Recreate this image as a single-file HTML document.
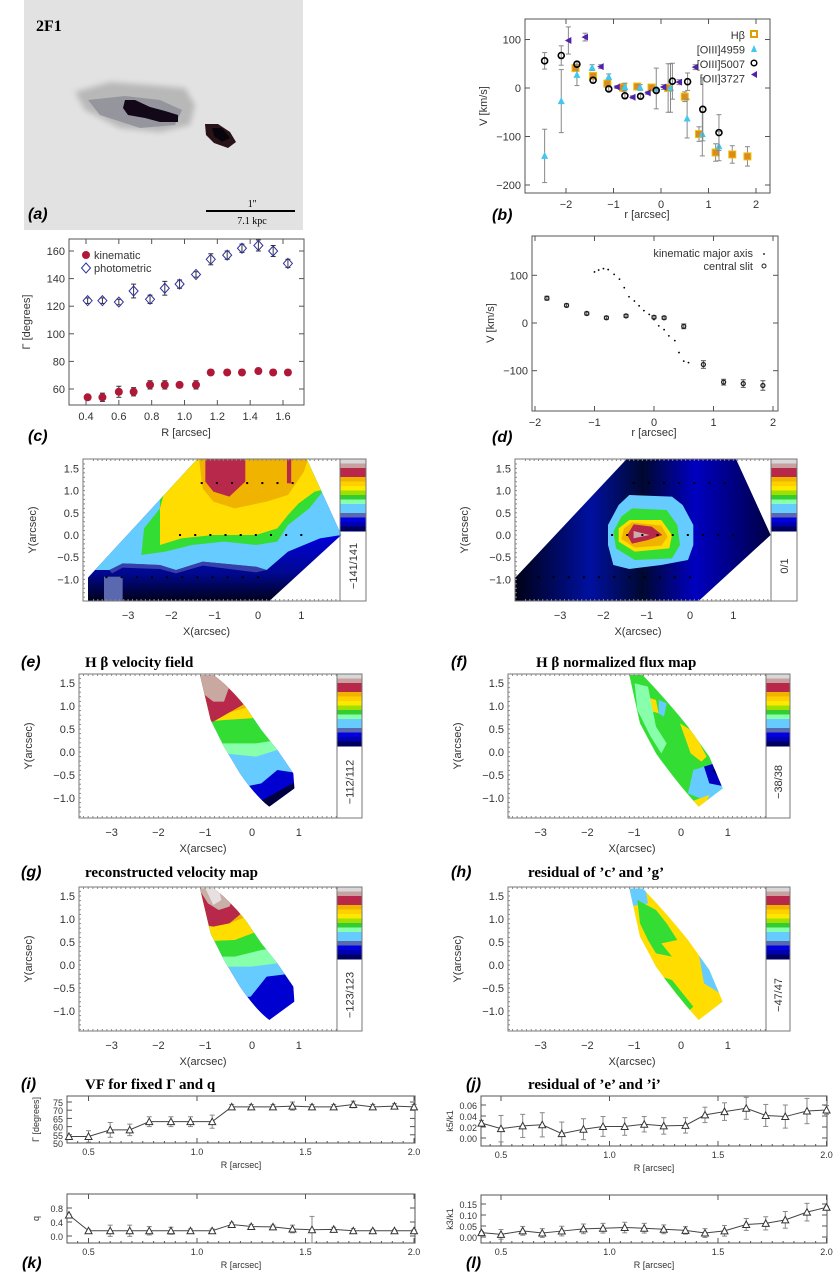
<!DOCTYPE html>
<html><head><meta charset="utf-8"><style>
body{margin:0;background:#fff}
svg{display:block}
text{font-family:"Liberation Sans",sans-serif;fill:#333}
.t{font-size:11px}
.s{font-size:9px}
.pl{font-size:16px;font-style:italic;font-weight:bold;fill:#000}
.ti{font-family:"Liberation Serif",serif;font-size:15px;font-weight:bold;fill:#000}
</style></head><body>
<svg id="fig" width="833" height="1275" viewBox="0 0 833 1275" xmlns="http://www.w3.org/2000/svg">
<defs>
<linearGradient id="navy" x1="0" y1="1" x2="0" y2="0"><stop offset="0" stop-color="#000018"/><stop offset="0.2" stop-color="#000890"/><stop offset="0.45" stop-color="#0000d8"/><stop offset="1" stop-color="#0000d8"/></linearGradient>
<linearGradient id="fnavy" x1="0" y1="0" x2="1" y2="0"><stop offset="0" stop-color="#000010"/><stop offset="0.3" stop-color="#0010a0"/><stop offset="0.5" stop-color="#000830"/><stop offset="0.7" stop-color="#0000c0"/><stop offset="1" stop-color="#000040"/></linearGradient>
<filter id="blur"><feGaussianBlur stdDeviation="3"/></filter>
<clipPath id="clipE"><polygon points="165,468 165,398 370,42 575,42 640,270 505,468"/></clipPath>
<clipPath id="clipF"><polygon points="965,468 965,400 1175,42 1380,42 1445,270 1310,468"/></clipPath>
<clipPath id="clipG"><path d="M375,45 L400,45 Q430,80 460,140 L490,210 L520,270 L550,340 L552,385 L505,440 Q480,410 450,340 L420,260 L395,180 Z"/></clipPath>
<clipPath id="clipH"><path d="M1180,45 L1205,45 Q1250,120 1290,200 L1330,290 L1355,385 L1310,440 Q1270,370 1230,280 L1200,190 Z"/></clipPath>
</defs>

<!-- Panel (a) image -->
<g>
<rect x="24" y="0" width="279" height="230" fill="#e2e2e2"/>
<polygon points="75,92 110,82 150,85 185,88 195,105 190,125 160,132 120,128 85,110" fill="#b8b8b8" filter="url(#blur)"/>
<polygon points="88,100 125,96 160,100 182,110 175,125 140,128 100,115" fill="#8c8c96" opacity="0.8"/>
<polygon points="125,100 135,100 150,107 165,111 178,115 178,122 160,122 145,118 128,115 123,108" fill="#120818"/>
<polygon points="205,124 218,124 230,132 236,142 228,148 214,143 206,135" fill="#281418"/>
<polygon points="212,128 222,128 230,138 222,142 214,136" fill="#08040c"/>
<text x="36" y="31" style="font-family:'Liberation Serif',serif;font-weight:bold;font-size:16px;fill:#000">2F1</text>
<line x1="206" y1="211" x2="295" y2="211" stroke="#000" stroke-width="2"/>
<text x="252" y="207" text-anchor="middle" style="font-family:'Liberation Serif',serif;font-size:10px;fill:#000">1''</text>
<text x="252" y="224" text-anchor="middle" style="font-family:'Liberation Serif',serif;font-size:10px;fill:#000">7.1 kpc</text>
<text x="28" y="219" class="pl">(a)</text>
</g>

<!-- Map e -->
<g transform="translate(0,445) scale(0.53333,0.33333)">
<g clip-path="url(#clipE)">
<rect x="160" y="40" width="490" height="430" fill="url(#navy)"/>
<rect x="195" y="395" width="35" height="75" fill="#5a68b0"/>
<polygon fill="#66ccff" points="0,0 700,0 700,270 640,270 600,280 540,320 500,375 480,365 380,350 330,375 300,360 230,355 205,375 0,375"/>
<polygon fill="#5a68b0" opacity="0.6" points="205,375 230,355 300,360 330,375 380,350 480,365 500,375 480,382 380,362 330,385 300,372 230,368 210,385"/>
<polygon fill="#33dd33" points="300,0 700,0 700,100 610,130 580,190 540,240 520,290 480,300 420,290 360,300 310,320 265,330 270,250 300,190"/>
<polygon fill="#ffdd00" points="310,0 700,0 700,100 590,140 560,175 540,210 520,250 480,270 400,270 340,280 300,300 300,190 310,130"/>
<polygon fill="#f0b400" points="370,0 585,0 570,80 540,150 500,170 440,190 400,170 380,130"/>
<polygon fill="#b8284a" points="385,40 460,40 460,110 430,155 400,140 385,110"/>
<rect x="538" y="40" width="8" height="75" fill="#b8284a"/>
</g>
</g>
<!-- Map f -->
<g transform="translate(0,445) scale(0.53333,0.33333)">
<g clip-path="url(#clipF)">
<rect x="960" y="40" width="490" height="430" fill="url(#fnavy)"/>
<polygon fill="#66ccff" points="1180,150 1260,155 1280,180 1300,240 1300,300 1290,345 1240,360 1180,372 1150,360 1140,300 1140,240 1160,180"/>
<polygon fill="#33dd33" points="1185,190 1250,195 1270,240 1275,300 1260,340 1190,345 1155,310 1150,260 1165,215"/>
<polygon fill="#ffdd00" points="1180,225 1240,225 1260,270 1255,310 1190,320 1160,290 1160,250"/>
<polygon fill="#f0b400" points="1185,232 1240,242 1252,275 1240,302 1190,308 1165,282 1170,250"/>
<polygon fill="#b8284a" points="1188,238 1222,245 1242,270 1215,285 1185,296 1176,270"/>
<polygon fill="#c8b0a8" points="1188,258 1218,270 1188,280"/>
</g>
</g>
<!-- Map rows 2 and 3 -->
<g transform="translate(0,660) scale(0.53333,0.33333)">
<g clip-path="url(#clipG)">
<rect x="360" y="40" width="200" height="410" fill="#0000d0"/>
<polygon fill="#000040" points="470,440 560,360 560,450"/>
<polygon fill="#66ccff" points="360,0 600,0 600,300 560,340 520,330 490,370 460,380 360,380"/>
<polygon fill="#88ffaa" points="360,0 600,0 600,240 540,260 480,290 420,280 360,300"/>
<polygon fill="#33dd33" points="360,0 600,0 600,220 480,250 420,250 360,260"/>
<polygon fill="#ffdd00" points="360,0 600,0 600,150 470,175 420,180 360,190"/>
<polygon fill="#f0b400" points="360,0 600,0 600,120 470,140 400,170 360,175"/>
<polygon fill="#b8284a" points="360,0 600,0 600,110 460,130 400,185 360,190"/>
<polygon fill="#c8a8a0" points="370,40 425,40 430,80 420,125 400,125 380,100"/>
</g>
<g clip-path="url(#clipH)">
<rect x="1170" y="40" width="200" height="410" fill="#33dd33"/>
<polygon fill="#ffdd00" points="1275,190 1300,215 1325,290 1315,305 1295,280"/>
<polygon fill="#ffdd00" points="1210,110 1230,120 1235,160 1215,150"/>
<polygon fill="#88ffaa" points="1190,70 1215,80 1230,200 1250,250 1240,280 1220,230 1195,150"/>
<polygon fill="#66ccff" points="1235,120 1250,130 1245,170 1235,160"/>
<polygon fill="#66ccff" points="1300,330 1360,300 1360,400 1320,420 1290,400"/>
<polygon fill="#0000c0" points="1320,320 1360,300 1360,380 1330,370"/>
<polygon fill="#000030" points="1335,330 1360,320 1360,370"/>
<polygon fill="#ffdd00" points="1295,425 1330,405 1320,445 1295,445"/>
</g>
<g transform="translate(0,640)">
<g clip-path="url(#clipG)">
<rect x="360" y="40" width="200" height="410" fill="#0000d0"/>
<polygon fill="#66ccff" points="360,0 600,0 600,290 550,300 500,310 470,370 360,380"/>
<polygon fill="#88ffaa" points="360,0 600,0 600,240 520,270 470,280 360,280"/>
<polygon fill="#33dd33" points="360,0 600,0 600,210 490,230 440,250 360,250"/>
<polygon fill="#ffdd00" points="360,0 600,0 600,150 490,170 440,200 360,205"/>
<polygon fill="#f0b400" points="360,0 600,0 600,110 470,125 430,150 360,160"/>
<polygon fill="#b8284a" points="360,0 600,0 600,100 460,110 430,150 400,160 360,150"/>
<polygon fill="#c8b0a8" points="370,40 420,40 440,70 430,100 410,110 390,90"/>
<polygon fill="#e8e0e0" points="385,45 410,45 415,80 400,95"/>
</g>
<g clip-path="url(#clipH)">
<rect x="1170" y="40" width="200" height="410" fill="#ffdd00"/>
<polygon fill="#66ccff" points="1170,40 1210,40 1215,90 1180,100"/>
<polygon fill="#33dd33" points="1195,80 1230,110 1250,150 1270,200 1240,210 1260,250 1230,240 1215,200 1200,150"/>
<polygon fill="#33dd33" points="1220,300 1260,320 1300,400 1280,430 1250,380"/>
<polygon fill="#66ccff" points="1200,200 1230,280 1260,350 1290,420 1270,430 1240,360 1210,280"/>
<polygon fill="#66ccff" points="1310,240 1360,290 1360,370 1320,330"/>
<polygon fill="#0000c0" points="1330,260 1360,300 1360,360 1340,320"/>
<polygon fill="#000030" points="1345,290 1360,310 1360,350"/>
</g>
</g>
</g>
<g id="maps"></g>
<g id="charts"></g>
</svg>
<script>
var NS="http://www.w3.org/2000/svg";
var fig=document.getElementById('fig');
var mapsG=document.getElementById('maps');
var chartsG=document.getElementById('charts');
function mk(tag,attrs,parent){var e=document.createElementNS(NS,tag);for(var k in attrs)e.setAttribute(k,attrs[k]);(parent||chartsG).appendChild(e);return e;}
function txt(x,y,s,cls,anchor,parent,rot){var e=mk('text',{x:x,y:y,'class':cls||'t','text-anchor':anchor||'middle'},parent);if(rot)e.setAttribute('transform','rotate(-90 '+x+' '+y+')');e.textContent=s;return e;}

// ---------------- chart data ----------------
var bHbR=[-1.8,-1.43,-1.13,-0.8,-0.5,-0.2,0.15,0.5,0.8,1.15,1.5,1.82];
var bHbV=[41,25,9,1,3,1,0,-18,-95,-133,-137,-141];
var bHbE=[5,5,5,8,5,5,50,10,15,18,18,20];
var b4959R=[-2.45,-2.1,-1.77,-1.45,-1.1,-0.76,-0.44,-0.1,0.2,0.55,0.87,1.22];
var b4959V=[-140,-27,27,42,23,2,1,-1,0,-63,-95,-120];
var b4959E=[55,65,22,6,6,8,6,42,50,40,45,30];
var b5007R=[-2.45,-2.1,-1.77,-1.43,-1.1,-0.76,-0.43,-0.1,0.24,0.56,0.88,1.22];
var b5007V=[56,67,49,16,-2,-16,-17,-5,14,13,-44,-92];
var b5007E=[17,20,5,5,4,4,4,4,37,18,65,37];
var b3727R=[-1.95,-1.6,-1.27,-0.93,-0.6,-0.28,0.05,0.38,0.72];
var b3727V=[98,105,44,2,-19,-10,2,12,43];
var b3727E=[28,8,4,3,3,3,5,5,5];
var bYTicks=[-200,-100,0,100];
var bXTicks=[-2,-1,0,1,2];
var cR=[0.41,0.50,0.60,0.69,0.79,0.88,0.97,1.07,1.16,1.26,1.35,1.45,1.54,1.63];
var cKin=[54,54,58,58,63,63,63,63,72,72,72,73,72,72];
var cKinE=[2,3,4,3,3,3,2,3,2,2,2,2,2,2];
var cPho=[124,124,123,131,125,133,136,143,154,157,162,164,160,151];
var cPhoE=[2,2,2,5,3,5,3,2,4,3,3,4,4,3];
var cYTicks=[60,80,100,120,140,160];
var cXTicks=[0.4,0.6,0.8,1.0,1.2,1.4,1.6];
var dKinR=[-1.0,-0.93,-0.85,-0.77,-0.67,-0.58,-0.5,-0.42,-0.33,-0.25,-0.17,-0.08,0,0.08,0.17,0.25,0.35,0.42,0.5,0.58];
var dKinV=[107,111,114,112,102,92,74,55,46,36,26,18,7,-6,-14,-27,-37,-62,-80,-83];
var dSlitR=[-1.8,-1.47,-1.13,-0.8,-0.47,0,0.17,0.5,0.83,1.17,1.5,1.83];
var dSlitV=[52,37,20,11,15,12,11,-7,-87,-124,-127,-131];
var dSlitE=[4,3,3,3,3,3,3,5,8,6,8,10];
var dYTicks=[-100,0,100];
var dXTicks=[-2,-1,0,1,2];
var kR=[0.41,0.50,0.60,0.69,0.78,0.88,0.97,1.07,1.16,1.25,1.35,1.44,1.53,1.63,1.72,1.81,1.91,2.0];
var iGam=[54,54,58,58,63,63,63,63,72,72,72,72.5,72,72,73.5,72,72.5,72];
var iGamE=[1,3.5,4.5,3.5,3,3,3,4,1.5,1.5,1.5,2.5,1.5,1.5,2,1.5,1.5,1.5];
var kQ=[0.6,0.15,0.15,0.15,0.15,0.15,0.15,0.15,0.33,0.27,0.26,0.2,0.18,0.19,0.15,0.15,0.15,0.15];
var kQE=[0.02,0.04,0.16,0.16,0.12,0.1,0.05,0.05,0.05,0.06,0.05,0.11,0.38,0.06,0.06,0.04,0.03,0.03];
var jK5=[0.027,0.017,0.022,0.024,0.008,0.016,0.021,0.021,0.025,0.022,0.023,0.042,0.048,0.054,0.041,0.039,0.049,0.051];
var jK5E=[0.005,0.024,0.021,0.022,0.021,0.019,0.018,0.016,0.014,0.015,0.014,0.014,0.016,0.02,0.02,0.021,0.023,0.008];
var lK3=[0.02,0.012,0.028,0.018,0.027,0.037,0.04,0.043,0.04,0.035,0.03,0.018,0.028,0.057,0.062,0.078,0.113,0.135];
var lK3E=[0.005,0.022,0.02,0.02,0.022,0.022,0.022,0.024,0.022,0.02,0.017,0.02,0.024,0.027,0.03,0.038,0.04,0.005];
var iYTicks=[50,55,60,65,70,75];
var kYTicks=[0.0,0.4,0.8];
var jYTicks=[0.00,0.02,0.04,0.06];
var lYTicks=[0.00,0.05,0.10,0.15];
var rTicks=[0.5,1.0,1.5,2.0];

function lin(d0,d1,p0,p1){return function(v){return p0+(v-d0)*(p1-p0)/(d1-d0);};}
function frame(x0,y0,x1,y1,name){
  var r=mk('rect',{x:x0,y:y0,width:x1-x0,height:y1-y0,fill:'none',stroke:'#555','stroke-width':1});
  
  
}
function ticks(xs,ys,box,xf,yf,cls,fmtX,fmtY,lblDy){
  var g=mk('g',{});
  
  
  xs.forEach(function(v){var px=xf(v);mk('line',{x1:px,y1:box[3],x2:px,y2:box[3]-5,stroke:'#555'},g);mk('line',{x1:px,y1:box[1],x2:px,y2:box[1]+5,stroke:'#555'},g);
    txt(px,box[3]+lblDy,fmtX(v),cls,'middle',g);});
  ys.forEach(function(v){var py=yf(v);mk('line',{x1:box[0],y1:py,x2:box[0]+5,y2:py,stroke:'#555'},g);mk('line',{x1:box[2],y1:py,x2:box[2]-5,y2:py,stroke:'#555'},g);
    txt(box[0]-4,py+4,fmtY(v),cls,'end',g);});
}
function fmt(n){return function(v){var s=v.toFixed(n);return s.replace('-','\u2212');};}
function errbar(px,py1,py2,col,g){mk('line',{x1:px,y1:py1,x2:px,y2:py2,stroke:col||'#777'},g);mk('line',{x1:px-2.5,y1:py1,x2:px+2.5,y2:py1,stroke:col||'#777'},g);mk('line',{x1:px-2.5,y1:py2,x2:px+2.5,y2:py2,stroke:col||'#777'},g);}

// (b)
(function(){
 var box=[525,19,770,193];var xf=lin(0,2,661,756),yf=lin(0,100,88,39.5);
 frame(box[0],box[1],box[2],box[3],'plot-b-frame');
 ticks(bXTicks,bYTicks,box,xf,yf,'t',fmt(0),fmt(0),15);
 txt(487,106,'V [km/s]','t','middle',null,true);
 txt(647,218,'r [arcsec]','t');
 txt(492,220,'(b)','pl','start');
 function series(R,V,E,name,draw){var g=mk('g',{});
   R.forEach(function(r,i){var px=xf(r),py=yf(V[i]);errbar(px,yf(V[i]+E[i]),yf(V[i]-E[i]),'#888',g);draw(px,py,g);});}
 series(bHbR,bHbV,bHbE,'series-hbeta',function(x,y,g){mk('rect',{x:x-3.5,y:y-3.5,width:7,height:7,fill:'#d98a20',stroke:'#f0c000'},g);});
 series(b4959R,b4959V,b4959E,'series-oiii4959',function(x,y,g){mk('polygon',{points:(x-3.5)+','+(y+3)+' '+(x+3.5)+','+(y+3)+' '+x+','+(y-4),fill:'#40c8f0'},g);});
 series(b5007R,b5007V,b5007E,'series-oiii5007',function(x,y,g){mk('circle',{cx:x,cy:y,r:3,fill:'none',stroke:'#000','stroke-width':1.6},g);});
 series(b3727R,b3727V,b3727E,'series-oii3727',function(x,y,g){mk('polygon',{points:(x+3)+','+(y-3.5)+' '+(x+3)+','+(y+3.5)+' '+(x-3.5)+','+y,fill:'#5020b0'},g);});
 var lg=mk('g',{});
 var labs=['H\u03B2','[OIII]4959','[OIII]5007','[OII]3727'];
 labs.forEach(function(s,i){txt(745,39+i*14.5,s,'t','end',lg);});
 mk('rect',{x:751,y:31,width:6,height:6,fill:'none',stroke:'#e0a000','stroke-width':2},lg);
 mk('polygon',{points:'751,52 757,52 754,45',fill:'#40c8f0'},lg);
 mk('circle',{cx:754,cy:63,r:2.8,fill:'none',stroke:'#000','stroke-width':1.5},lg);
 mk('polygon',{points:'757,71 757,78 751,74.5',fill:'#5020b0'},lg);
})();

// (c)
(function(){
 var box=[69,239,304,405];var xf=lin(0.4,1.6,86,283),yf=lin(60,160,389,251);
 frame(box[0],box[1],box[2],box[3],'plot-c-frame');
 ticks(cXTicks,cYTicks,box,xf,yf,'t',fmt(1),fmt(0),15);
 txt(30,322,'\u0393 [degrees]','t','middle',null,true);
 txt(186,436,'R [arcsec]','t');
 txt(28,441,'(c)','pl','start');
 var g1=mk('g',{});
 cR.forEach(function(r,i){var px=xf(r);errbar(px,yf(cKin[i]+cKinE[i]),yf(cKin[i]-cKinE[i]),'#333',g1);mk('circle',{cx:px,cy:yf(cKin[i]),r:4,fill:'#b01838'},g1);});
 var g2=mk('g',{});
 cR.forEach(function(r,i){var px=xf(r),py=yf(cPho[i]);errbar(px,yf(cPho[i]+cPhoE[i]),yf(cPho[i]-cPhoE[i]),'#333',g2);mk('polygon',{points:px+','+(py-5)+' '+(px+4.5)+','+py+' '+px+','+(py+5)+' '+(px-4.5)+','+py,fill:'none',stroke:'#3030a0'},g2);});
 var lg=mk('g',{});
 mk('circle',{cx:86,cy:255,r:4,fill:'#b01838'},lg);txt(94,259,'kinematic','t','start',lg);
 mk('polygon',{points:'86,263 90.5,268 86,273 81.5,268',fill:'none',stroke:'#3030a0'},lg);txt(94,272,'photometric','t','start',lg);
})();

// (d)
(function(){
 var box=[532,236,778,411];var xf=lin(0,1,654,713.5),yf=lin(0,100,323,275.3);
 frame(box[0],box[1],box[2],box[3],'plot-d-frame');
 ticks(dXTicks,dYTicks,box,xf,yf,'t',fmt(0),fmt(0),15);
 txt(494,323,'V [km/s]','t','middle',null,true);
 txt(654,436,'r [arcsec]','t');
 txt(492,442,'(d)','pl','start');
 var g1=mk('g',{});
 dKinR.forEach(function(r,i){mk('circle',{cx:xf(r),cy:yf(dKinV[i]),r:0.9,fill:'#000'},g1);});
 var g2=mk('g',{});
 dSlitR.forEach(function(r,i){var px=xf(r);errbar(px,yf(dSlitV[i]+dSlitE[i]),yf(dSlitV[i]-dSlitE[i]),'#555',g2);mk('circle',{cx:px,cy:yf(dSlitV[i]),r:2,fill:'none',stroke:'#222','stroke-width':1.3},g2);});
 var lg=mk('g',{});
 txt(753,257,'kinematic major axis','t','end',lg);mk('circle',{cx:764,cy:254,r:0.9,fill:'#000'},lg);
 txt(753,270,'central slit','t','end',lg);mk('circle',{cx:764,cy:266,r:2,fill:'none',stroke:'#222'},lg);
})();

// bottom panels
function small(box,x0px,yA,yB,vals,errs,yt,yfmt,ylab,name){
 var xf=lin(0.5,2.0,x0px,x0px+325.5),yf=lin(yA[0],yB[0],yA[1],yB[1]);
 frame(box[0],box[1],box[2],box[3],name+'-frame');
 var g0=mk('g',{});
 for(var m=0.4;m<=2.001;m+=0.05){var px=xf(m);if(px<box[0]||px>box[2])continue;mk('line',{x1:px,y1:box[3],x2:px,y2:box[3]-2,stroke:'#555'},g0);}
 ticks(rTicks,yt,box,xf,yf,'s',fmt(1),yfmt,12);
 txt(box[0]-28,(box[1]+box[3])/2,ylab,'s','middle',null,true);
 txt((box[0]+box[2])/2,box[3]+25,'R [arcsec]','s');
 var g=mk('g',{});
 var pts=kR.map(function(r,i){return xf(r)+','+yf(vals[i]);}).join(' ');
 mk('polyline',{points:pts,fill:'none',stroke:'#444'},g);
 kR.forEach(function(r,i){var px=xf(r),py=yf(vals[i]);errbar(px,yf(vals[i]+errs[i]),yf(vals[i]-errs[i]),'#888',g);
  mk('polygon',{points:(px-3.5)+','+(py+3)+' '+(px+3.5)+','+(py+3)+' '+px+','+(py-3.5),fill:'#fff',stroke:'#333'},g);});
}
small([67,1096,415,1143],88.5,[50,1143],[75,1102],iGam,iGamE,iYTicks,fmt(0),'\u0393 [degrees]','plot-i');
small([67,1194,415,1243],88.5,[0,1236],[0.8,1208],kQ,kQE,kYTicks,fmt(1),'q','plot-k');
small([481,1096,827,1146],501,[0,1138],[0.06,1105],jK5,jK5E,jYTicks,fmt(2),'k5/k1','plot-j');
small([481,1195,827,1243],501,[0,1237],[0.15,1204],lK3,lK3E,lYTicks,fmt(2),'k3/k1','plot-l');
txt(22,1268,'(k)','pl','start');
txt(466,1268,'(l)','pl','start');

// map axes
var cbColors=['#d8d8d8','#c8a0a0','#b8284a','#b8284a','#f0b400','#ffd000','#ffe800','#a0e000','#33cc33','#88ffaa','#66ccff','#66ccff','#5a68b0','#0000e0','#0000b0','#000060'];
var mapXTicks=[-3,-2,-1,0,1];
var mapYTicks=[-1.0,-0.5,0.0,0.5,1.0,1.5];
function mapAxes(box,x0,xs,y0,ys,cbw,cbEnd,range,name,dots){
 var xf=function(v){return x0+xs*v;},yf=function(v){return y0-ys*v;};
 var g=mk('g',{},mapsG);
 
 
 mk('rect',{x:box[0],y:box[1],width:box[2]-box[0],height:box[3]-box[1],fill:'none',stroke:'#777'},g);
 for(var v=-3.8;v<=1.9;v+=0.1){var px=xf(v);if(px<box[0]||px>box[2])continue;mk('line',{x1:px,y1:box[3],x2:px,y2:box[3]-2,stroke:'#888'},g);mk('line',{x1:px,y1:box[1],x2:px,y2:box[1]+2,stroke:'#888'},g);}
 for(var w=-1.4;w<=1.7;w+=0.1){var py=yf(w);if(py<box[1]||py>box[3])continue;mk('line',{x1:box[0],y1:py,x2:box[0]+2,y2:py,stroke:'#888'},g);}
 mapXTicks.forEach(function(v){txt(xf(v),box[3]+18,String(v).replace('-','\u2212'),'t','middle',g);});
 mapYTicks.forEach(function(v){txt(box[0]-4,yf(v)+4,v.toFixed(1).replace('-','\u2212'),'t','end',g);});
 txt((box[0]+box[2])/2-5,box[3]+34,'X(arcsec)','t','middle',g);
 txt(box[0]-47,(box[1]+box[3])/2,'Y(arcsec)','t','middle',g,true);
 var cb=mk('g',{},mapsG);
 
 
 var h=(cbEnd-box[1])/cbColors.length;
 cbColors.forEach(function(c,i){mk('rect',{x:box[2],y:box[1]+i*h,width:cbw,height:h+0.5,fill:c},cb);});
 mk('rect',{x:box[2],y:box[1],width:cbw,height:box[3]-box[1],fill:'none',stroke:'#777'},cb);
 var cx=box[2]+cbw/2+4,cy=(cbEnd+box[3])/2;
 txt(cx,cy,range,'t','middle',cb,true);
 if(dots){var dg=mk('g',{},mapsG);
  dots.forEach(function(d){for(var xx=d[1];xx<=d[2]+0.01;xx+=0.35){mk('rect',{x:xf(xx)-1,y:yf(d[0])-1,width:2,height:2,fill:'#000'},dg);}});}
}
var fibRows=[[1.17,-1.3,1.0],[0,-1.8,1.3],[-0.95,-3.5,0.2]];
mapAxes([83,459,340,601],258,43.3,535,44.4,26,531,'\u2212141/141','map-e',fibRows);
mapAxes([515,459,771,601],690,43.3,535,44.4,26,531,'0/1','map-f',fibRows);
mapAxes([79,674,337,818],252,46.8,752,46,25,746,'\u2212112/112','map-g',null);
mapAxes([508,674,766,818],681,46.8,752,46,24,746,'\u221238/38','map-h',null);
mapAxes([79,887,337,1031],252,46.8,965,46,25,959,'\u2212123/123','map-i',null);
mapAxes([508,887,766,1031],681,46.8,965,46,24,959,'\u221247/47','map-j',null);

var titles=[[21,85,667,'(e)','H \u03B2 velocity field'],[451,536,667,'(f)','H \u03B2 normalized flux map'],
 [21,85,877,'(g)','reconstructed velocity map'],[451,528,877,'(h)','residual of \u2019c\u2019 and \u2019g\u2019'],
 [21,85,1089,'(i)','VF for fixed \u0393 and q'],[466,528,1089,'(j)','residual of \u2019e\u2019 and \u2019i\u2019']];
titles.forEach(function(t){
 var a=txt(t[0],t[2],t[3],'pl','start',mapsG);
 
 
 var b=txt(t[1],t[2],t[4],'ti','start',mapsG);
 
 
});
</script>
</body></html>
